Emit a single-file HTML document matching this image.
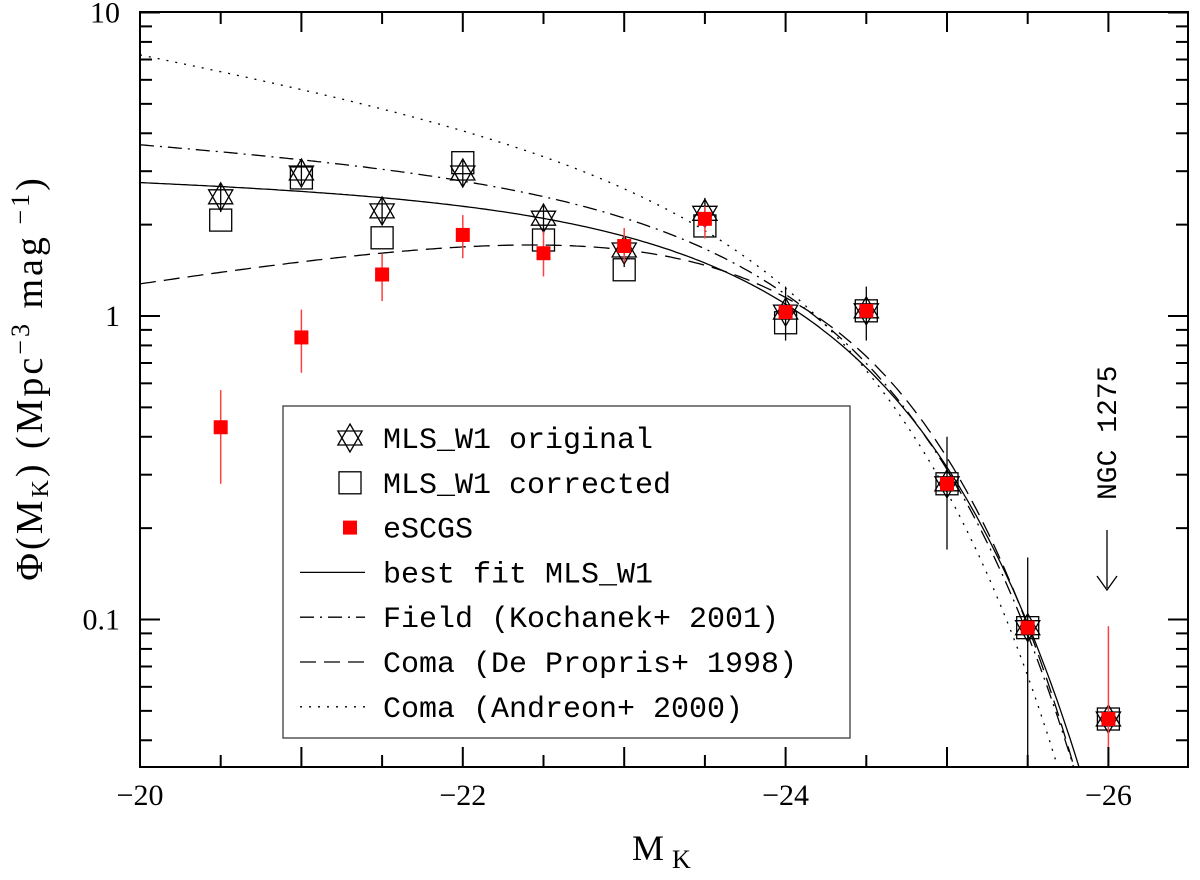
<!DOCTYPE html>
<html><head><meta charset="utf-8"><style>
html,body{margin:0;padding:0;background:#fff;overflow:hidden;width:1200px;height:880px;}
svg{display:block;font-family:"Liberation Serif",serif;}
.lg{font-family:"Liberation Mono",monospace;font-size:30px;}
</style></head><body>
<svg id="chart" width="1200" height="880" xmlns="http://www.w3.org/2000/svg">
<g id="curves"></g>
<g id="points"></g>
<g id="axes"></g>
<g id="legend"></g>
</svg>
<script>
// ---- data ----
const mags = [-20.5,-21,-21.5,-22,-22.5,-23,-23.5,-24,-24.5,-25,-25.5,-26];
const origVals = [2.47,2.96,2.22,2.96,2.1,1.65,2.18,1.03,1.04,0.28,0.094,0.047];
const origLo = [2.2,2.7,2.0,2.65,1.85,1.45,1.95,0.83,0.83,0.17,0.033,0.044];
const origHi = [2.75,3.25,2.45,3.25,2.35,1.85,2.45,1.25,1.25,0.4,0.16,0.05];
const corrVals = [2.07,2.85,1.81,3.2,1.78,1.42,1.98,0.95,1.04,0.28,0.094,0.047];
const escgsVals = [0.43,0.85,1.37,1.85,1.61,1.7,2.09,1.03,1.04,0.28,0.094,0.047];
const escgsLo = [0.28,0.65,1.12,1.55,1.35,1.5,1.8,1.03,1.04,0.28,0.094,0.033];
const escgsHi = [0.57,1.05,1.6,2.15,1.9,1.95,2.3,1.03,1.04,0.28,0.094,0.095];
// Schechter params: [phiStar, Mstar, alpha]
const bestFit = [2.4,-24.25,-1.04];
const fieldK = [2.64,-24.21,-1.09];
const comaDP = [2.98,-24.07,-0.78];
const comaA = [2.85,-24.15,-1.25];
const xTicks = [-20,-22,-24,-26];
const yTicks = [10,1,0.1];

// ---- axes ----
const L=140,R=1188,T=12,B=767;
const X = m => L + (-20 - m) * 161.4;
const Y = v => 316 - Math.log10(v) * 303.5;
const NS="http://www.w3.org/2000/svg";
function mk(tag, attrs, parent){const e=document.createElementNS(NS,tag);for(const k in attrs)e.setAttribute(k,attrs[k]);parent.appendChild(e);return e;}
const axes=document.getElementById('axes');
const frame=mk('rect',{x:L,y:T,width:R-L,height:B-T,fill:'none',stroke:'#000','stroke-width':2},axes);


for(let m=-20;m>=-26.45;m-=0.5){
  const big = Math.abs(m%1)<1e-6; const len = big?20:12; const x=X(m);
  mk('line',{x1:x,y1:B,x2:x,y2:B-len,stroke:'#000','stroke-width':2},axes);
  mk('line',{x1:x,y1:T,x2:x,y2:T+len,stroke:'#000','stroke-width':2},axes);
}
for(let d=-2;d<=1;d++){
  for(let k=1;k<10;k++){
    const v=k*Math.pow(10,d); const y=Y(v);
    if(y<T-1||y>B+1) continue;
    const len=k===1?20:12;
    mk('line',{x1:L,y1:y,x2:L+len,y2:y,stroke:'#000','stroke-width':2},axes);
    mk('line',{x1:R,y1:y,x2:R-len,y2:y,stroke:'#000','stroke-width':2},axes);
  }
}
xTicks.forEach(t=>{
  const tx=mk('text',{x:X(t),y:805,'text-anchor':'middle','font-size':30},axes);
  tx.textContent='\u2212'+Math.abs(t);
  
  
});
yTicks.forEach(t=>{
  const ty=mk('text',{x:120,y:Y(t)+10,'text-anchor':'end','font-size':30},axes);
  ty.textContent=String(t);
  
  
});
const xt=mk('text',{x:632,y:860,'font-size':36},axes);
xt.innerHTML='M<tspan dx="8" dy="8" font-size="26">K</tspan>';


const yt=mk('text',{x:0,y:0,'font-size':38,'letter-spacing':3,'text-anchor':'middle',transform:'translate(42,378) rotate(-90)'},axes);
yt.innerHTML='Φ(M<tspan dy="6" font-size="24">K</tspan><tspan dy="-6">)  (Mpc</tspan><tspan dy="-13" font-size="26">−3</tspan><tspan dy="13"> mag</tspan><tspan dy="-13" font-size="26"> −1</tspan><tspan dy="13">)</tspan>';



// ---- curves ----
function sch(p,m){const x=Math.pow(10,0.4*(p[1]-m));return p[0]*Math.pow(x,p[2]+1)*Math.exp(-x);}
const curves=document.getElementById('curves');
const cdefs=[[bestFit,'',"best-fit-curve"],[fieldK,'14 6 2 6',"field-kochanek-curve"],[comaDP,'16 8',"coma-depropris-curve"],[comaA,'2 7',"coma-andreon-curve"]];
const clip=mk('clipPath',{id:'pc'},curves); mk('rect',{x:L,y:T,width:R-L,height:B-T},clip);
cdefs.forEach(c=>{
  let d='';
  for(let m=-20;m>=-26.5;m-=0.02){const v=sch(c[0],m);d+=(d?'L':'M')+X(m).toFixed(1)+','+Y(v).toFixed(1);}
  const p=mk('path',{d:d,fill:'none',stroke:'#000','stroke-width':1.3,'stroke-dasharray':c[1],'clip-path':'url(#pc)'},curves);
  
  
});

// ---- points ----
const pts=document.getElementById('points');
function star(g,cx,cy,r){
  const t1=[],t2=[];
  for(let i=0;i<3;i++){const a=-Math.PI/2+i*2*Math.PI/3;t1.push((cx+r*Math.cos(a)).toFixed(1)+','+(cy+r*Math.sin(a)).toFixed(1));
    const b=Math.PI/2+i*2*Math.PI/3;t2.push((cx+r*Math.cos(b)).toFixed(1)+','+(cy+r*Math.sin(b)).toFixed(1));}
  mk('polygon',{points:t1.join(' '),fill:'none',stroke:'#000','stroke-width':1.3},g);
  mk('polygon',{points:t2.join(' '),fill:'none',stroke:'#000','stroke-width':1.3},g);
}
mags.forEach((m,i)=>{
  const x=X(m);
  const g=mk('g',{},pts);
  
  
  const e1=mk('line',{x1:x,y1:Y(origLo[i]),x2:x,y2:Y(origHi[i]),stroke:'#000','stroke-width':1.3},g);
  
  
  const sq=mk('rect',{x:x-11,y:Y(corrVals[i])-11,width:22,height:22,fill:'none',stroke:'#000','stroke-width':1.3},g);
  
  
  const sg=mk('g',{},g);
  
  
  star(sg,x,Y(origVals[i]),14);
  const e2=mk('line',{x1:x,y1:Y(escgsLo[i]),x2:x,y2:Y(escgsHi[i]),stroke:'#ff4040','stroke-width':1.5},g);
  
  
  const r=mk('rect',{x:x-7,y:Y(escgsVals[i])-7,width:14,height:14,fill:'#ff0000'},g);
  
  
});
// annotation
const an=mk('text',{x:0,y:0,'font-family':'Liberation Mono, monospace','font-size':28,transform:'translate(1116,500) rotate(-90)'},pts);
an.textContent='NGC 1275';


const ar=mk('path',{d:'M1107,530 V588 M1097,576 L1107,590 L1117,576',fill:'none',stroke:'#000','stroke-width':1.3},pts);



// ---- legend ----
const lg=document.getElementById('legend');
const box=mk('rect',{x:283,y:406,width:567,height:332,fill:'#fff',stroke:'#555','stroke-width':1.5},lg);


const labels=['MLS_W1 original','MLS_W1 corrected','eSCGS','best fit MLS_W1','Field (Kochanek+ 2001)','Coma (De Propris+ 1998)','Coma (Andreon+ 2000)'];
const dashes=['','14 6 2 6','16 8','2 7'];
labels.forEach((t,i)=>{
  const y=438+i*44.8;
  const g=mk('g',{},lg);
  
  
  if(i===0) star(g,350,y,14);
  else if(i===1) mk('rect',{x:339,y:y-11,width:22,height:22,fill:'none',stroke:'#000','stroke-width':1.3},g);
  else if(i===2) mk('rect',{x:343,y:y-7,width:14,height:14,fill:'#ff0000'},g);
  else mk('line',{x1:300,y1:y,x2:365,y2:y,stroke:'#000','stroke-width':1.3,'stroke-dasharray':dashes[i-3]},g);
  const tx=mk('text',{x:383,y:y+10,class:'lg'},g);
  tx.textContent=t;
});
</script>
</body></html>
